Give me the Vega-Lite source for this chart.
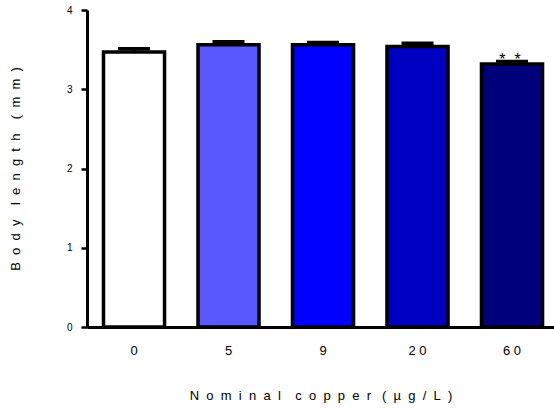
{
  "$schema": "https://vega.github.io/schema/vega-lite/v6.json",
  "autosize": "none",
  "width": 467,
  "height": 317,
  "padding": {"left": 87, "top": 10, "right": 0, "bottom": 82},
  "background": "white",
  "config": {
    "view": {"stroke": null},
    "font": "Liberation Sans",
    "axis": {"labelColor": "black", "titleColor": "black", "domainColor": "black", "tickColor": "black", "grid": false, "labelFont": "Liberation Sans", "titleFont": "Liberation Sans", "titleFontWeight": "normal"}
  },
  "data": {
    "values": [
      {"dose": "0", "mean": 3.47, "upper": 3.51, "sig": ""},
      {"dose": "5", "mean": 3.56, "upper": 3.60, "sig": ""},
      {"dose": "9", "mean": 3.56, "upper": 3.59, "sig": ""},
      {"dose": "2 0", "mean": 3.54, "upper": 3.58, "sig": ""},
      {"dose": "6 0", "mean": 3.32, "upper": 3.35, "sig": "*\u00a0\u00a0*"}
    ]
  },
  "encoding": {
    "x": {
      "field": "dose", "type": "nominal", "sort": ["0", "5", "9", "2 0", "6 0"],
      "scale": {"paddingInner": 0.354, "paddingOuter": 0.148, "align": 0.59},
      "axis": {
        "title": "N\u00a0\u00a0o\u00a0\u00a0m\u00a0\u00a0i\u00a0\u00a0n\u00a0\u00a0a\u00a0\u00a0l\u00a0\u00a0\u00a0\u00a0c\u00a0\u00a0o\u00a0\u00a0p\u00a0\u00a0p\u00a0\u00a0e\u00a0\u00a0r\u00a0\u00a0\u00a0(\u00a0\u00a0µ\u00a0\u00a0g\u00a0\u00a0/\u00a0\u00a0L\u00a0\u00a0)",
        "labelAngle": 0, "ticks": false, "tickSize": 0, "labelPadding": 17,
        "labelFontSize": 13, "domainWidth": 3,
        "titleFontSize": 13, "titleY": 68, "titleBaseline": "middle"
      }
    }
  },
  "layer": [
    {
      "mark": {"type": "bar", "stroke": "black", "strokeWidth": 3.5},
      "encoding": {
        "y": {
          "field": "mean", "type": "quantitative",
          "scale": {"domain": [0, 4], "nice": false},
          "axis": {
            "title": "B\u00a0\u00a0o\u00a0\u00a0d\u00a0\u00a0y\u00a0\u00a0\u00a0\u00a0l\u00a0\u00a0e\u00a0\u00a0n\u00a0\u00a0g\u00a0\u00a0t\u00a0\u00a0h\u00a0\u00a0\u00a0\u00a0(\u00a0\u00a0m\u00a0\u00a0m\u00a0\u00a0)",
            "values": [0, 1, 2, 3, 4], "format": "d", "tickSize": 6, "tickWidth": 2.5, "domainWidth": 3,
            "labelPadding": 9, "labelFontSize": 10, "titleFontSize": 13,
            "titleX": -72, "titleBaseline": "middle"
          }
        },
        "fill": {
          "field": "dose", "type": "nominal",
          "scale": {"domain": ["0", "5", "9", "2 0", "6 0"], "range": ["#FFFFFF", "#5858FF", "#0000FF", "#0000C2", "#00007A"]},
          "legend": null
        }
      }
    },
    {
      "mark": {"type": "rule", "color": "black", "strokeWidth": 3},
      "encoding": {
        "y": {"field": "mean", "type": "quantitative"},
        "y2": {"field": "upper"}
      }
    },
    {
      "mark": {"type": "tick", "color": "black", "thickness": 3.5, "size": 32, "opacity": 1},
      "encoding": {
        "y": {"field": "upper", "type": "quantitative"}
      }
    },
    {
      "mark": {"type": "text", "fontSize": 16, "baseline": "alphabetic", "dy": 3, "dx": -2, "color": "black"},
      "encoding": {
        "y": {"field": "upper", "type": "quantitative"},
        "text": {"field": "sig"}
      }
    }
  ]
}
